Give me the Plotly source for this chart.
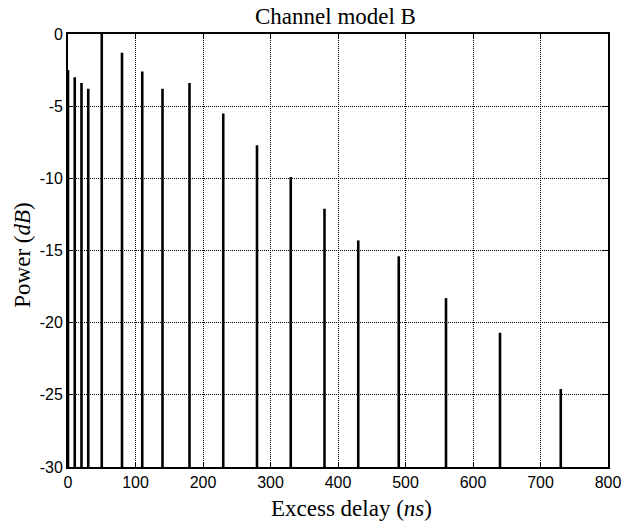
import plotly.graph_objects as go

# Tap delays (ns) and relative tap powers (dB)
delays = [0, 10, 20, 30, 50, 80, 110, 140, 180, 230, 280, 330, 380, 430, 490, 560, 640, 730]
powers = [-2.5, -3.0, -3.4, -3.8, 0.0, -1.3, -2.6, -3.8, -3.4, -5.5, -7.7, -9.9,
          -12.1, -14.3, -15.4, -18.3, -20.7, -24.6]

base_level = -30
x_ticks = [0, 100, 200, 300, 400, 500, 600, 700, 800]
y_ticks = [0, -5, -10, -15, -20, -25, -30]

# Build stem segments from the baseline up to each tap power
stem_x, stem_y = [], []
for d, p in zip(delays, powers):
    stem_x += [d, d, None]
    stem_y += [base_level, p, None]

fig = go.Figure()
fig.add_trace(go.Scatter(
    x=stem_x, y=stem_y, mode="lines",
    line=dict(color="black", width=2.6),
    showlegend=False, hoverinfo="skip",
))

serif = "Liberation Serif, Times New Roman, serif"
tick_font = dict(family="Liberation Sans, Arial, sans-serif", size=16, color="black")
label_font = dict(family=serif, size=23, color="black")

common_axis = dict(
    showgrid=True, gridcolor="black", griddash="1px,1px", gridwidth=1,
    showline=True, linecolor="black", linewidth=1.8, mirror="ticks",
    ticks="inside", ticklen=5, tickcolor="black",
    tickfont=tick_font, zeroline=False,
)

fig.update_layout(
    width=633, height=525,
    margin=dict(l=68, r=15, t=34, b=58),
    paper_bgcolor="white", plot_bgcolor="white",
    title=dict(text="Channel model B", x=0.530, xanchor="center",
               y=0.969, yanchor="middle", font=dict(family=serif, size=23, color="black")),
    xaxis=dict(range=[0, 800], tickvals=x_ticks,
               ticktext=[str(v) for v in x_ticks], **common_axis),
    yaxis=dict(range=[-30, 0], tickvals=y_ticks,
               ticktext=[str(v) for v in y_ticks], **common_axis),
    annotations=[
        dict(text="Excess delay (<i>ns</i>)", xref="paper", yref="paper",
             x=0.525, y=-0.095, xanchor="center", yanchor="middle",
             showarrow=False, font=label_font),
        dict(text="Power (<i>dB</i>)", xref="paper", yref="paper",
             x=-0.0836, y=0.49, xanchor="center", yanchor="middle",
             textangle=-90, showarrow=False, font=label_font),
    ],
)

fig.write_html("out.html")
